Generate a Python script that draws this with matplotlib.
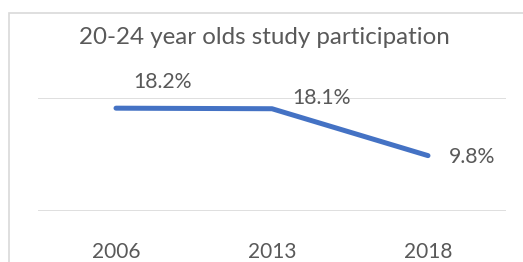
import matplotlib
matplotlib.use('Agg')
from matplotlib import pyplot as plt
from matplotlib.patches import Rectangle

years = ['2006', '2013', '2018']
share = [18.2, 18.1, 9.8]
share_labels = ['18.2%', '18.1%', '9.8%']
title = '20-24 year olds study participation'

grey = '#595959'
blue = '#4472C4'
plt.rcParams['font.family'] = ['Lato', 'DejaVu Sans']

W, H = 523, 262
fig = plt.figure(figsize=(W / 100, H / 100), dpi=100)

# chart border (cut off at right / bottom like the source)
fig.patches.append(Rectangle((9 / W, -0.1), 1.2, 1 - 13 / H + 0.1,
                             transform=fig.transFigure, fill=False,
                             edgecolor='#D9D9D9', linewidth=1.2))

ax = fig.add_axes([38 / W, 1 - 211 / H, 468 / W, 113 / H])
x = list(range(len(years)))
ax.plot(x, share, color=blue, linewidth=3.6, solid_capstyle='round')
ax.set_xlim(-0.5, len(years) - 0.5)
ax.set_ylim(0, 20)
ax.set_yticks([0, 20])
ax.yaxis.grid(True, color='#D9D9D9', linewidth=1.2)
ax.set_axisbelow(True)
ax.tick_params(axis='y', left=False, labelleft=False)
ax.set_xticks(x)
ax.set_xticklabels(years, fontsize=15, color=grey)
ax.tick_params(axis='x', length=0, pad=22)
for s in ax.spines.values():
    s.set_visible(False)

offsets = [(47, 26), (50, 11), (44, -1)]
for xi, yi, lab, off in zip(x, share, share_labels, offsets):
    ax.annotate(lab, (xi, yi), xytext=off, textcoords='offset pixels',
                ha='center', va='center', fontsize=15.3, color=grey)

fig.text(264 / W, 1 - 38 / H, title, ha='center', va='center',
         fontsize=17.4, color=grey)

fig.savefig('out.png', dpi=100)
